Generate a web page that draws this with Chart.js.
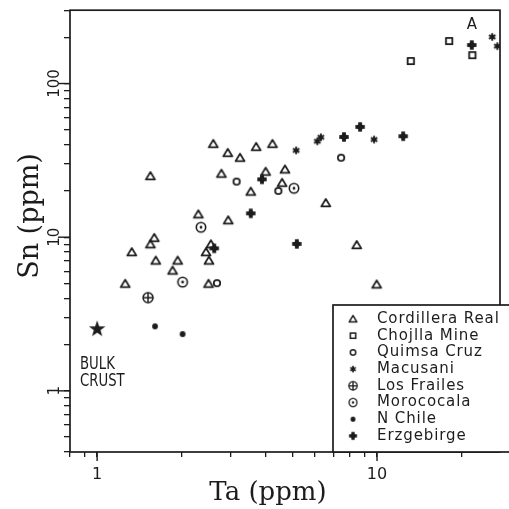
<!DOCTYPE html>
<html><head><meta charset="utf-8">
<script src="https://cdn.jsdelivr.net/npm/chart.js@4.4.0/dist/chart.umd.min.js"></script>
<style>html,body{margin:0;padding:0;background:#fff;}#wrap{width:509px;height:509px;position:relative;}</style>
</head><body><div id="wrap"><canvas id="c"></canvas></div>
<script>
// ---------- data ----------
const xTickValues = [0.8,0.9,1,2,3,4,5,6,7,8,9,10,20];
const yTickValues = [0.4,0.5,0.6,0.7,0.8,0.9,1,2,3,4,5,6,7,8,9,10,20,30,40,50,60,70,80,90,100,200,300];
const xLabeledTicks = [1,10];
const yLabeledTicks = [1,10,100];

const seriesNames = ['Cordillera Real','Chojlla Mine','Quimsa Cruz','Macusani','Los Frailes','Morococala','N Chile','Erzgebirge'];

const cordilleraTa = [2.60,2.93,3.24,3.70,4.23,1.55,2.78,3.54,4.00,4.69,4.58,2.30,2.94,1.60,1.55,1.33,1.62,1.94,1.86,1.26,2.50,2.45,2.55,2.51,6.56,8.46,9.97];
const cordilleraSn = [40.5,35.4,32.9,38.7,40.5,25.0,25.9,19.8,26.7,27.6,22.6,14.1,12.9,9.9,9.0,8.0,7.05,7.05,6.07,4.98,4.98,8.0,9.0,7.05,16.7,8.9,4.93];
const chojllaTa = [18.1,21.9,13.2];
const chojllaSn = [189,153,140];
const quimsaTa = [3.15,4.44,7.44,2.68];
const quimsaSn = [23.0,20.0,32.9,5.02];
const macusaniTa = [25.8,26.9,9.76,6.12,6.30,5.14];
const macusaniSn = [201,175,43.2,42.1,44.7,36.7];
const frailesTa = [1.52];
const frailesSn = [4.04];
const morococalaTa = [2.35,2.02,5.05];
const morococalaSn = [11.6,5.10,20.8];
const nchileTa = [1.61,2.02];
const nchileSn = [2.63,2.34];
const erzTa = [21.8,8.7,7.62,12.4,3.88,3.54,2.62,5.17];
const erzSn = [178,52.2,44.9,45.4,23.8,14.3,8.46,9.04];
const crustTa = [1.0];
const crustSn = [2.52];

// ---------- markers ----------
const INK = '#1c1c1c';
function mk(kind){
  const c = document.createElement('canvas');
  const S = 22; c.width = S; c.height = S;
  const g = c.getContext('2d');
  g.translate(S/2, S/2);
  g.strokeStyle = INK; g.fillStyle = INK; g.lineWidth = 1.8; g.lineJoin='round';
  if(kind==='tri'){ g.beginPath(); g.moveTo(0,-4); g.lineTo(4.5,3.4); g.lineTo(-4.5,3.4); g.closePath(); g.stroke(); }
  else if(kind==='sq'){ g.strokeRect(-3.2,-3.2,6.4,6.4); }
  else if(kind==='circ'){ g.beginPath(); g.arc(0,0,3.2,0,Math.PI*2); g.stroke(); }
  else if(kind==='ast'){ g.lineWidth=1.9; for(let i=0;i<3;i++){const a=i*Math.PI/3+Math.PI/2; g.beginPath(); g.moveTo(Math.cos(a)*3.7,Math.sin(a)*3.7); g.lineTo(-Math.cos(a)*3.7,-Math.sin(a)*3.7); g.stroke();} }
  else if(kind==='cross'){ g.lineWidth=1.5; g.beginPath(); g.arc(0,0,5,0,Math.PI*2); g.stroke(); g.beginPath(); g.moveTo(-5,0); g.lineTo(5,0); g.moveTo(0,-5); g.lineTo(0,5); g.stroke(); }
  else if(kind==='cdot'){ g.lineWidth=1.6; g.beginPath(); g.arc(0,0,4.7,0,Math.PI*2); g.stroke(); g.beginPath(); g.arc(0,0,1.4,0,Math.PI*2); g.fill(); }
  else if(kind==='dot'){ g.beginPath(); g.arc(0,0,2.9,0,Math.PI*2); g.fill(); }
  else if(kind==='plus'){ g.fillRect(-4.7,-1.9,9.4,3.8); g.fillRect(-1.9,-4.7,3.8,9.4); g.beginPath(); g.arc(0,0,3,0,Math.PI*2); g.fill(); }
  else if(kind==='star'){ g.beginPath(); for(let i=0;i<10;i++){const r=i%2?3.5:8.7; const a=-Math.PI/2+i*Math.PI/5; g.lineTo(Math.cos(a)*r,Math.sin(a)*r);} g.closePath(); g.fill(); }
  return c;
}
const markers = [mk('tri'),mk('sq'),mk('circ'),mk('ast'),mk('cross'),mk('cdot'),mk('dot'),mk('plus')];
const crustMarker = mk('star');

function pts(xs, ys){ return xs.map((x,i)=>({x:x, y:ys[i]})); }
const seriesData = [pts(cordilleraTa,cordilleraSn),pts(chojllaTa,chojllaSn),pts(quimsaTa,quimsaSn),pts(macusaniTa,macusaniSn),pts(frailesTa,frailesSn),pts(morococalaTa,morococalaSn),pts(nchileTa,nchileSn),pts(erzTa,erzSn)];

const datasets = seriesNames.map((n,i)=>({label:n, data:seriesData[i], pointStyle:markers[i], pointRadius:5, showLine:false}));
datasets.push({label:'Bulk Crust', data:pts(crustTa,crustSn), pointStyle:crustMarker, pointRadius:8, showLine:false, legendHidden:true});

// ---------- decorations plugin ----------
const deco = {
  id:'deco',
  afterDraw(chart){
    const ctx = chart.ctx, a = chart.chartArea, xs = chart.scales.x, ys = chart.scales.y;
    ctx.save();
    ctx.strokeStyle = INK; ctx.fillStyle = INK; ctx.lineWidth = 1.7;
    ctx.strokeRect(a.left, a.top, a.right-a.left, a.bottom-a.top);
    // longer major ticks
    ctx.lineWidth = 1.4;
    xLabeledTicks.forEach(v=>{const p=xs.getPixelForValue(v); ctx.beginPath(); ctx.moveTo(p,a.bottom); ctx.lineTo(p,a.bottom+9); ctx.stroke();});
    yLabeledTicks.forEach(v=>{const p=ys.getPixelForValue(v); ctx.beginPath(); ctx.moveTo(a.left,p); ctx.lineTo(a.left-12,p); ctx.stroke();});
    // rotated y tick labels
    ctx.font = '15px "DejaVu Sans"'; ctx.textAlign='center'; ctx.textBaseline='alphabetic';
    yLabeledTicks.forEach(v=>{const p=ys.getPixelForValue(v); ctx.save(); ctx.translate(59,p); ctx.rotate(-Math.PI/2); ctx.fillText(String(v),0,0); ctx.restore();});
    // axis titles
    ctx.save(); ctx.translate(38,216); ctx.rotate(-Math.PI/2); ctx.font='27px "DejaVu Serif"'; ctx.textAlign='center'; ctx.textBaseline='alphabetic'; ctx.fillText('Sn (ppm)',0,0); ctx.restore();
    ctx.font='26px "DejaVu Serif"'; ctx.textAlign='center'; ctx.textBaseline='alphabetic';
    ctx.fillText('Ta (ppm)', 268, 500);
    // annotations
    ctx.font='15px "DejaVu Sans"'; ctx.textAlign='center'; ctx.textBaseline='middle';
    ctx.fillText('A', 472, 25);
    ctx.save(); ctx.translate(80,0); ctx.scale(0.78,1); ctx.font='17px "DejaVu Sans"'; ctx.textAlign='left'; ctx.textBaseline='middle';
    ctx.fillText('BULK',0,365); ctx.fillText('CRUST',0,382); ctx.restore();
    // legend
    const lx=333, ly=305;
    ctx.fillStyle='#fff'; ctx.fillRect(lx, ly, 509-lx, a.bottom-ly);
    ctx.fillStyle=INK; ctx.lineWidth=1.7; ctx.strokeRect(lx, ly, 509-lx+4, a.bottom-ly);
    ctx.font='15px "DejaVu Sans"'; ctx.textAlign='left'; ctx.textBaseline='middle';
    try{ ctx.letterSpacing='0.9px'; }catch(e){}
    chart.data.datasets.forEach((d,i)=>{
      if(d.legendHidden) return;
      const y = 319 + i*16.7;
      const m = d.pointStyle;
      ctx.drawImage(m, 353-m.width/2*0.85, y-m.height/2*0.85, m.width*0.85, m.height*0.85);
      ctx.fillText(d.label, 377, y);
    });
    ctx.restore();
  }
};

new Chart(document.getElementById('c'), {
  type:'scatter',
  data:{datasets},
  options:{
    responsive:true, maintainAspectRatio:false, animation:false,
    layout:{padding:{top:9,right:0,left:0,bottom:0}},
    plugins:{legend:{display:false}, tooltip:{enabled:false}},
    scales:{
      x:{type:'logarithmic', min:0.8, max:27.5,
        afterBuildTicks:s=>{s.ticks = xTickValues.map(v=>({value:v}));},
        afterFit:s=>{s.height=57;},
        ticks:{autoSkip:false, maxRotation:0, minRotation:0, padding:8, color:INK, font:{family:'DejaVu Sans', size:16},
          callback:v=>xLabeledTicks.includes(v)?String(v):''},
        grid:{drawOnChartArea:false, drawTicks:true, tickLength:5, color:INK, lineWidth:1.3},
        border:{display:false},
        title:{display:false}
      },
      y:{type:'logarithmic', min:0.4, max:300,
        afterBuildTicks:s=>{s.ticks = yTickValues.map(v=>({value:v}));},
        afterFit:s=>{s.width=70;},
        ticks:{autoSkip:false, callback:()=>'' },
        grid:{drawOnChartArea:false, drawTicks:true, tickLength:6, color:INK, lineWidth:1.3},
        border:{display:false}
      }
    }
  },
  plugins:[deco]
});
</script></body></html>
